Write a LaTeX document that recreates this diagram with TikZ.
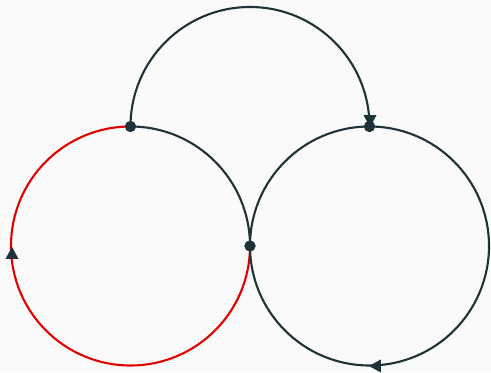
\documentclass[tikz,border=0pt]{standalone}
\usepackage{xcolor}
\usepackage{tikz}
\usetikzlibrary{shapes.geometric}
\definecolor{ink}{HTML}{1F3237}
\definecolor{hot}{HTML}{E00000}
\definecolor{bg}{HTML}{FAFAFA}

\tikzset{
    dot/.style={circle,fill=ink,inner sep=0pt,minimum size=6.3pt},
    tri/.style={isosceles triangle,isosceles triangle stretches,fill=ink,
        inner sep=0pt,minimum width=7.4pt,minimum height=6.8pt},
}

\begin{document}
\begin{tikzpicture}[x=0.02cm,y=0.02cm,line width=1.2pt]
    \fill[bg] (0,0) rectangle (491,372);

    \coordinate (cL) at (130.5,126);
    \coordinate (cR) at (369.5,126);
    \node[dot] (P1) at (130.5,245.5) {};
    \node[dot] (P2) at (369.5,245.5) {};
    \node[dot] (P3) at (250,126) {};

    % left circle
    \draw[hot] (P3.center) arc[start angle=0,end angle=-270,radius=119.5];
    \draw[ink] (P3.center) arc[start angle=0,end angle=90,radius=119.5];
    % right circle
    \draw[ink] (cR) circle[radius=119.5];
    % bridge over the top
    \draw[ink] (P1.center) arc[start angle=180,end angle=0,radius=119.5];

    \node[dot] at (P1) {};
    \node[dot] at (P2) {};
    \node[dot] at (P3) {};

    \node[tri,rotate=90] (t1) at (12,117) {};
    \node[tri,rotate=-90] (t2) at (370,253) {};
    \node[tri,rotate=180] (t3) at (377,6) {};
\end{tikzpicture}
\end{document}
